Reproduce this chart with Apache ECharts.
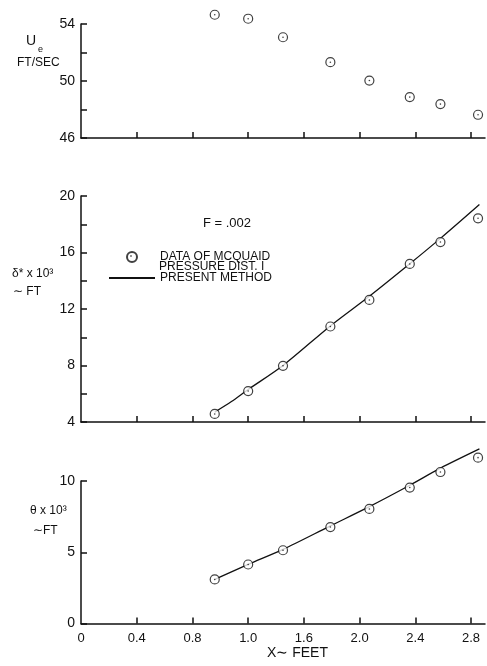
<!DOCTYPE html>
<html>
<head>
<meta charset="utf-8">
<script src="https://cdn.jsdelivr.net/npm/echarts@6/dist/echarts.min.js"></script>
<style>
  html, body { margin: 0; padding: 0; background: #fff; }
  #chart { width: 487px; height: 666px; }
</style>
</head>
<body>
<div id="chart"></div>
<script>
// Measured stations along the plate (ft)
const stationX = [0.96, 1.20, 1.45, 1.79, 2.07, 2.36, 2.58, 2.85];
// Edge velocity, ft/sec
const edgeVelocity = [54.65, 54.37, 53.07, 51.32, 50.03, 48.87, 48.38, 47.63];
// Displacement thickness x 10^3, ft (McQuaid data)
const deltaStarData = [4.57, 6.19, 7.98, 10.76, 12.64, 15.19, 16.74, 18.42];
// Momentum thickness x 10^3, ft (McQuaid data)
const thetaData = [3.09, 4.14, 5.14, 6.77, 8.04, 9.54, 10.63, 11.64];

// Present method curves
const deltaCurveX = [0.96, 1.08, 1.20, 1.45, 1.79, 2.07, 2.36, 2.58, 2.86];
const deltaCurveY = [4.7, 5.45, 6.3, 8.0, 10.8, 12.9, 15.2, 17.0, 19.4];
const thetaCurveX = [0.96, 1.20, 1.45, 1.79, 2.07, 2.36, 2.58, 2.86];
const thetaCurveY = [3.1, 4.15, 5.2, 6.85, 8.2, 9.7, 10.9, 12.25];

// X axis tick positions and their printed labels
const xTickValues = [0.4, 0.8, 1.2, 1.6, 2.0, 2.4, 2.8];
const xLabelValues = [0, 0.4, 0.8, 1.2, 1.6, 2.0, 2.4, 2.8];
const xLabelText = ['0', '0.4', '0.8', '1.0', '1.6', '2.0', '2.4', '2.8'];

// Labelled values on each y axis (other ticks are left unlabelled)
const ueLabels = [46, 50, 54];
const deltaLabels = [4, 8, 12, 16, 20];
const thetaLabels = [0, 5, 10];

const ink = '#111';
const font = "'Liberation Sans', Arial, sans-serif";

const pair = (xs, ys) => xs.map((x, i) => [x, ys[i]]);

function xAxisFor(gridIndex, showLabels) {
  return {
    type: 'value', gridIndex, min: 0, max: 2.9,
    axisLine: { show: true, lineStyle: { color: ink, width: 1.5 } },
    axisTick: { show: true, inside: true, length: 6, customValues: xTickValues,
                lineStyle: { color: ink, width: 1.5 } },
    axisLabel: {
      show: showLabels, customValues: xLabelValues, margin: 8,
      color: ink, fontFamily: font, fontSize: 13,
      formatter: v => {
        const i = xLabelValues.findIndex(t => Math.abs(t - v) < 1e-6);
        return i >= 0 ? xLabelText[i] : '';
      }
    },
    splitLine: { show: false }
  };
}

function yAxisFor(gridIndex, min, max, interval, labelled) {
  return {
    type: 'value', gridIndex, min, max, interval,
    axisLine: { show: true, lineStyle: { color: ink, width: 1.5 } },
    axisTick: { show: true, inside: true, length: 6, lineStyle: { color: ink, width: 1.5 } },
    axisLabel: {
      margin: 6, color: ink, fontFamily: font, fontSize: 14,
      formatter: v => (labelled.some(t => Math.abs(t - v) < 1e-6) ? String(v) : '')
    },
    splitLine: { show: false }
  };
}

function circles(name, data, xi) {
  return [
    {
      name, type: 'scatter', xAxisIndex: xi, yAxisIndex: xi, data, clip: false,
      symbol: 'circle', symbolSize: 9, z: 3,
      itemStyle: { color: '#fff', borderColor: ink, borderWidth: 1.2 }
    },
    {
      type: 'scatter', xAxisIndex: xi, yAxisIndex: xi, data, clip: false,
      symbol: 'circle', symbolSize: 1.6, z: 4, silent: true,
      itemStyle: { color: ink }
    }
  ];
}

function curve(name, data, xi) {
  return {
    name, type: 'line', xAxisIndex: xi, yAxisIndex: xi, data, clip: false,
    smooth: 0.3, symbol: 'none', z: 2,
    lineStyle: { color: ink, width: 1.3 }, itemStyle: { color: ink }
  };
}

const chart = echarts.init(document.getElementById('chart'), null, { renderer: 'canvas' });

const option = {
  backgroundColor: '#fff',
  animation: false,
  grid: [
    { left: 81, right: 2, top: 24, height: 114 },
    { left: 81, right: 2, top: 196, height: 226 },
    { left: 81, right: 2, top: 481, height: 142.5 }
  ],
  xAxis: [xAxisFor(0, false), xAxisFor(1, false), xAxisFor(2, true)],
  yAxis: [
    yAxisFor(0, 46, 54, 2, ueLabels),
    yAxisFor(1, 4, 20, 2, deltaLabels),
    yAxisFor(2, 0, 10, 5, thetaLabels)
  ],
  legend: {
    orient: 'vertical', left: 108, top: 251, padding: 0,
    itemWidth: 46, itemHeight: 10, itemGap: 9,
    data: [
      { name: 'DATA OF MCQUAID' },
      { name: 'PRESENT METHOD', itemStyle: { opacity: 0 } }
    ],
    textStyle: { color: ink, fontFamily: font, fontSize: 12, lineHeight: 12 },
    selectedMode: false
  },
  series: [
    ...circles('U_e', pair(stationX, edgeVelocity), 0),
    ...circles('DATA OF MCQUAID', pair(stationX, deltaStarData), 1),
    curve('PRESENT METHOD', pair(deltaCurveX, deltaCurveY), 1),
    ...circles('theta', pair(stationX, thetaData), 2),
    curve('theta curve', pair(thetaCurveX, thetaCurveY), 2)
  ],
  graphic: [
    { type: 'text', left: 26, top: 34, style: { text: 'U', fill: ink, font: '14px ' + font } },
    { type: 'text', left: 38, top: 45, style: { text: 'e', fill: ink, font: '9px ' + font } },
    { type: 'text', left: 17, top: 57, style: { text: 'FT/SEC', fill: ink, font: '12px ' + font } },

    { type: 'text', left: 12, top: 268, style: { text: 'δ* x 10³', fill: ink, font: '12px ' + font } },
    { type: 'text', left: 13, top: 286, style: { text: '∼ FT', fill: ink, font: '12px ' + font } },

    { type: 'text', left: 30, top: 505, style: { text: 'θ x 10³', fill: ink, font: '12px ' + font } },
    { type: 'text', left: 33, top: 525, style: { text: '∼FT', fill: ink, font: '12px ' + font } },

    { type: 'text', left: 203, top: 217, style: { text: 'F = .002', fill: ink, font: '13px ' + font } },
    { type: 'text', left: 159, top: 261, style: { text: 'PRESSURE DIST. I', fill: ink, font: '12px ' + font } },
    { type: 'circle', shape: { cx: 131, cy: 256, r: 0.8 }, style: { fill: ink }, z: 100 },

    { type: 'text', left: 267, top: 646, style: { text: 'X∼ FEET', fill: ink, font: '14px ' + font } }
  ]
};

chart.setOption(option);
</script>
</body>
</html>
